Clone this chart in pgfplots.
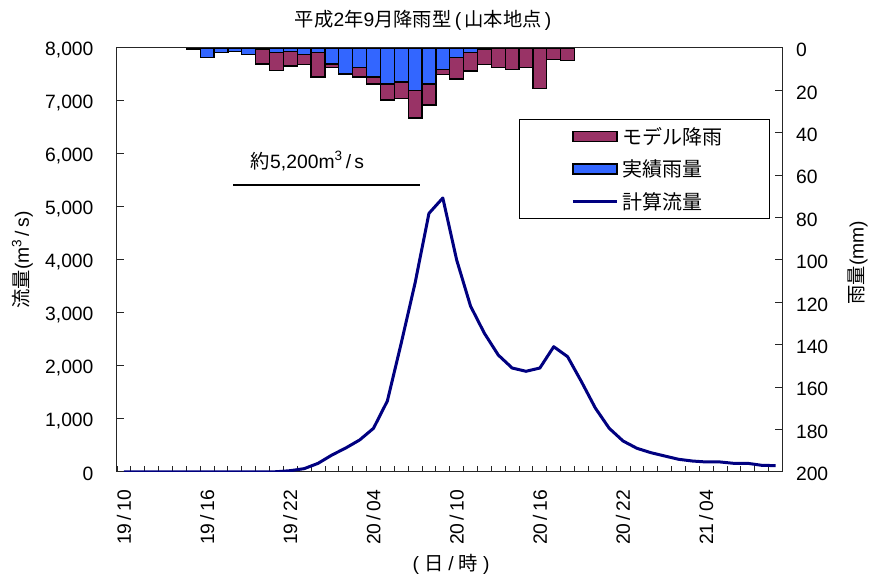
\documentclass[border=0pt]{standalone}
\usepackage{fontspec}
\usepackage{pgfplots}
\usepackage{pgfplotstable}
\pgfplotsset{compat=1.18}
\setmainfont{Liberation Sans}
\newfontfamily\cjk{Noto Sans CJK JP}
\definecolor{modelc}{HTML}{993366}
\definecolor{obsc}{HTML}{3366FF}
\definecolor{flowc}{HTML}{000080}
\newcommand{\ff}{\fontsize{19.3}{22}\selectfont}
\pgfplotsset{
  rectleg/.style={legend image code/.code={\path (0pt,0pt); \draw[##1] (6.5pt,-5pt) rectangle (50.5pt,5pt);}},
  lineleg/.style={legend image code/.code={\path (0pt,0pt); \draw[##1] (6.5pt,0pt) -- (50.5pt,0pt);}},
}
\pgfplotstableread{
i obs model
5 0.5 0
6 4.4 0
7 2.2 0
8 1.5 0
9 3.0 0
10 0.7 6.8
11 2.2 8.5
12 1.5 7.0
13 3.1 4.6
14 2.2 11.5
15 7.5 1.6
16 12.3 0
17 9.1 4.6
18 13.7 3.3
19 17.0 7.5
20 16.0 7.9
21 20.1 12.9
22 17.0 9.9
23 10.0 2.4
24 4.4 10.2
25 2.2 8.6
26 0.5 7.4
27 0.4 8.9
28 0 10.0
29 0 9.3
30 0 19.2
31 0 5.3
32 0 6.0
}\raintable
\pgfplotstableread{
i q
0 0
1 0
2 0
3 0
4 0
5 0
6 0
7 0
8 0
9 0
10 0
11 5
12 25
13 63
14 163
15 320
16 453
17 604
18 824
19 1340
20 2430
21 3566
22 4880
23 5170
24 4000
25 3130
26 2617
27 2207
28 1962
29 1900
30 1962
31 2364
32 2176
33 1704
34 1207
35 825
36 585
37 447
38 365
39 302
40 240
41 207
42 189
43 189
44 163
45 163
46 126
47 120
}\flowtable
\begin{document}
\begin{tikzpicture}[x=1pt,y=1pt]
\path[use as bounding box] (0,0) rectangle (871,577);
% rain bars on the reversed right axis
\begin{axis}[
  at={(117pt,105pt)}, anchor=south west,
  scale only axis, width=665.5pt, height=424pt,
  xmin=-0.5, xmax=47.5, ymin=0, ymax=200,
  y dir=reverse,
  hide x axis,
  axis y line*=right,
  ybar stacked, bar width=1,
  ytick={0,20,...,200},
  tick align=inside,
  major tick length=7pt,
  tick style={black!85, line width=1pt},
  axis line style={black!85, line width=1pt},
  yticklabel style={font=\ff, anchor=west, xshift=10pt, yshift=-2pt},
  /pgf/number format/assume math mode=true,
  ylabel={\ff{\cjk 雨量}(mm)},
  ylabel style={at={(axis description cs:1.113,0.494)}, anchor=center, rotate=0},
]
\addplot[fill=obsc, draw=black, line width=1.3pt] table[x=i,y=obs] {\raintable};
\addplot[fill=modelc, draw=black, line width=1.3pt] table[x=i,y=model] {\raintable};
\end{axis}
% flow line on the left axis
\begin{axis}[
  at={(117pt,105pt)}, anchor=south west,
  scale only axis, width=665.5pt, height=424pt,
  xmin=-0.5, xmax=47.5, ymin=0, ymax=8000,
  ytick={0,1000,...,8000},
  ytick pos=left, xtick pos=bottom,
  xtick={0,6,...,42},
  xticklabels={19\,/\,10,19\,/\,16,19\,/\,22,20\,/\,04,20\,/\,10,20\,/\,16,20\,/\,22,21\,/\,04},
  minor xtick={-0.5,0.5,...,47.5},
  tick align=inside,
  major tick length=7pt, minor tick length=6pt,
  major x tick style={draw=none},
  minor x tick style={black!85, line width=0.9pt},
  major y tick style={black!85, line width=1pt},
  axis line style={black!85, line width=1pt},
  yticklabel style={font=\ff, anchor=east, xshift=-20pt, yshift=-2pt},
  xticklabel style={font=\ff, yshift=-18pt, rotate=90, anchor=east, inner sep=0pt},
  scaled y ticks=false,
  /pgf/number format/.cd, fixed, 1000 sep={,}, assume math mode=true, /pgfplots/.cd,
  title={\ff{\cjk 平成}2{\cjk 年}9{\cjk 月降雨型}\,(\,{\cjk 山本地点}\,)},
  title style={at={(axis description cs:0.46,1.05)}, anchor=center},
  xlabel={\ff(\hspace{5pt}{\cjk 日}\hspace{5pt}/\hspace{5pt}{\cjk 時}\hspace{5pt})},
  xlabel style={at={(axis description cs:0.502,-0.219)}, anchor=center},
  ylabel={\ff{\cjk 流量}(m\textsuperscript{3}\,/\,s)},
  ylabel style={at={(axis description cs:-0.142,0.50)}, anchor=center, rotate=0},
  legend style={at={(rel axis cs:0.604,0.8325)}, anchor=north west,
    draw=black, line width=0.8pt, fill=white, inner xsep=45.5pt, inner ysep=6pt,
    font=\fontsize{20}{22}\selectfont, row sep=10pt},
  legend cell align=left,
]
\addlegendimage{draw=black, fill=modelc, line width=1.3pt, rectleg}
\addlegendentry{\hspace*{2pt}{\cjk モデル降雨}}
\addlegendimage{draw=black, fill=obsc, line width=1.3pt, rectleg}
\addlegendentry{\hspace*{2pt}{\cjk 実績雨量}}
\addplot[color=flowc, line width=3pt, line join=round, no marks, lineleg] table[x=i,y=q] {\flowtable};
\addlegendentry{\hspace*{2pt}{\cjk 計算流量}}
\end{axis}
% annotation
\draw[black, line width=1.3pt] (233,392) -- (420,392);
\node[font=\ff, anchor=center] at (307.5,416) {{\cjk 約}5,200m\textsuperscript{3}\,/\,s};
\end{tikzpicture}
\end{document}
